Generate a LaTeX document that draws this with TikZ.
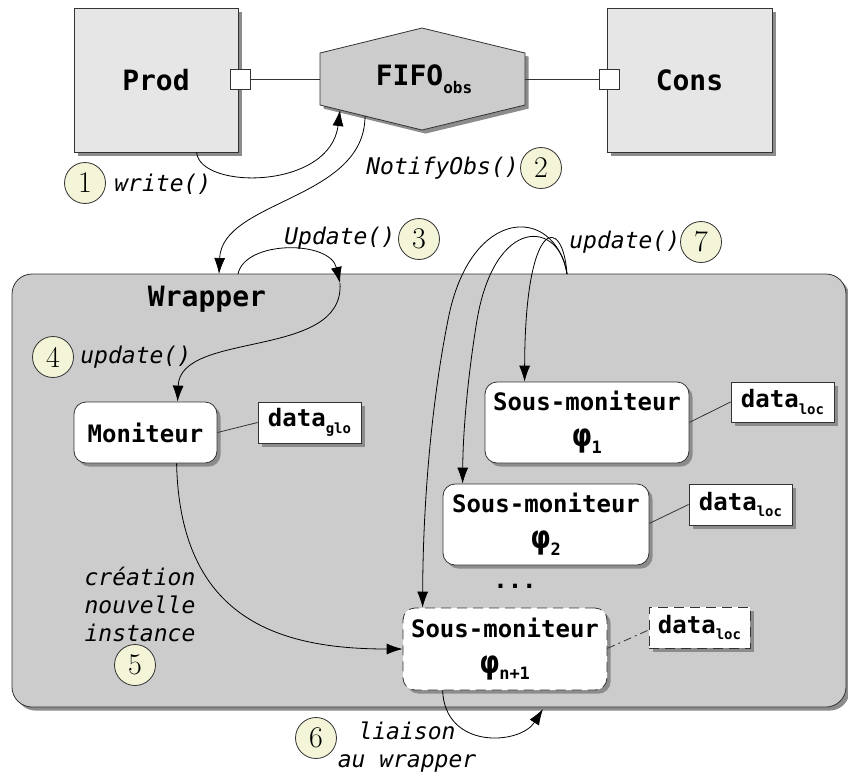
\documentclass[tikz,border=0pt]{standalone}
\usepackage{fontspec}
\newfontfamily\mono{DejaVu Sans Mono}
\usetikzlibrary{shadows,arrows.meta,calc}
\definecolor{beige}{RGB}{244,244,216}
\definecolor{lgray}{RGB}{230,230,230}
\definecolor{mgray}{RGB}{204,204,204}
\newcommand\sbs[2]{\raisebox{-0.5ex}{\fontsize{#1}{#1}\selectfont #2}}
\newcommand\bigphi{{\fontsize{16}{16}\selectfont φ}}
\begin{document}
\begin{tikzpicture}[x=0.5pt,y=-0.5pt,
  shad/.style={drop shadow={shadow xshift=1.8pt,shadow yshift=-1.8pt,fill=black!45,opacity=1}},
  bigbox/.style={draw=black!80, fill=lgray, shad, minimum width=82pt, minimum height=72pt, inner sep=0pt, font=\mono\bfseries\fontsize{14}{16}\selectfont},
  port/.style={draw=black!80, fill=white, minimum size=10pt, inner sep=0pt},
  mon/.style={draw=black!80, fill=white, rounded corners=6pt, shad, align=center, inner sep=0pt, font=\mono\bfseries\fontsize{12}{14}\selectfont},
  dbox/.style={draw=black!80, fill=white, shad, minimum width=51.5pt, minimum height=20.5pt, inner sep=0pt, font=\mono\bfseries\fontsize{12}{14}\selectfont},
  num/.style={circle, draw=black!80, fill=beige, minimum size=20.5pt, inner sep=0pt, font=\fontsize{15}{15}\selectfont},
  lab/.style={font=\mono\itshape\fontsize{11.5}{14}\selectfont, inner sep=0pt},
  arr/.style={-{Latex[length=8pt,width=5.5pt]}, black},
  ln/.style={draw=black!80}
]
\useasboundingbox (0,0) rectangle (848,773);

% top part
\node[bigbox] (prod) at (156,80) {Prod};
\node[bigbox, minimum width=82.5pt] (cons) at (689.5,80) {Cons};
\path[draw=black!80, fill=mgray, shad] (320,53) -- (422,28) -- (525,53) -- (525,105) -- (422,130) -- (320,105) -- cycle;
\node[font=\mono\bfseries\fontsize{14}{16}\selectfont, inner sep=0pt] (fifo) at (424,79) {FIFO\sbs{8}{obs}};
\coordinate (hexL) at (320,79);
\coordinate (hexR) at (525,79);
\coordinate (hW) at (340,110);
\coordinate (hN) at (365,116);
\node[port] (prodport) at (240,79) {};
\node[port] (consport) at (609,79) {};
\draw[ln] (prodport.east) -- (hexL);
\draw[ln] (hexR) -- (consport.west);

% wrapper
\node[draw=black!80, fill=mgray, rounded corners=10pt, shad, minimum width=417pt, minimum height=216.5pt, inner sep=0pt] (wrapper) at (429,490.5) {};
\node[font=\mono\bfseries\fontsize{14}{16}\selectfont, inner sep=0pt] (wlab) at (207,299) {Wrapper};

\node[mon, minimum width=71.5pt, minimum height=30.5pt] (moni) at (145.5,432.5) {Moniteur};
\node[dbox] (dglo) at (309.5,422.5) {data\sbs{7}{glo}};
\node[mon, minimum width=102pt, minimum height=40.5pt] (sm1) at (587,422.5) {Sous-moniteur\\[4pt]\bigphi\sbs{8.5}{1}};
\node[dbox, minimum height=20pt] (dl1) at (782.5,402) {data\sbs{7}{loc}};
\node[mon, minimum width=103pt, minimum height=40.5pt] (sm2) at (546,524.5) {Sous-moniteur\\[4pt]\bigphi\sbs{8.5}{2}};
\node[dbox] (dl2) at (740.5,504.5) {data\sbs{7}{loc}};
\node[font=\mono\bfseries\fontsize{12}{14}\selectfont, inner sep=0pt] (dots) at (515,586) {...};
\node[mon, dash pattern=on 5pt off 3pt, minimum width=102pt, minimum height=41pt] (smn) at (505,649) {Sous-moniteur\\[4pt]\bigphi\sbs{8.5}{n+1}};
\node[dbox, dash pattern=on 5pt off 3pt, minimum width=50.5pt] (dl3) at (699.5,627.5) {data\sbs{7}{loc}};

\draw[ln] (moni.east) -- (dglo.west);
\draw[ln] ($(sm1.south east)+(0,-41)$) -- (dl1.west);
\draw[ln] ($(sm2.south east)+(0,-42)$) -- (dl2.west);
\draw[ln, dash pattern=on 4pt off 2pt on 1pt off 2pt] ($(smn.south east)+(0,-42)$) -- (dl3.west |- 0,630);

% labels
\node[num] (n1) at (85,183) {1};
\node[lab, anchor=west] (l1) at (114,184) {write()};
\node[lab, anchor=west] (l2) at (366,168) {NotifyObs()};
\node[num] (n2) at (541,168) {2};
\node[lab, anchor=west] (l3) at (284,238) {Update()};
\node[num] (n3) at (419,239) {3};
\node[lab, anchor=west] (l7) at (569,242) {update()};
\node[num] (n7) at (701,242) {7};
\node[num] (n4) at (53,357) {4};
\node[lab, anchor=west] (l4) at (80,357) {update()};
\node[lab, align=center] (l5) at (140,604) {création\\nouvelle\\instance};
\node[num] (n5) at (135,665) {5};
\node[num] (n6) at (316,738) {6};
\node[lab, align=center] (l6) at (407,747) {liaison\\au wrapper};

% arrows
\coordinate (pw) at ($(prod.south west)+(123,0)$);
\draw[arr] (pw) .. controls (200,190) and (330,190) .. (hW);
\coordinate (wt1) at (219,274);
\draw[arr] (hN) .. controls (365,200) and (222,200) .. (wt1);
\coordinate (wt2) at (238,274);
\coordinate (w3) at (340,283);
\draw[arr] (wt2) .. controls (245,240) and (330,240) .. (w3);
\coordinate (mt) at ($(moni.north west)+(104,0)$);
\draw[arr] (w3) .. controls (345,360) and (180,330) .. (mt);
\coordinate (mb) at ($(moni.south west)+(103,0)$);
\draw[arr] (mb) .. controls (180,620) and (280,649) .. (smn.west);
\coordinate (sb) at ($(smn.south west)+(40,0)$);
\coordinate (wb) at (543,709);
\draw[arr] (sb) .. controls (445,750) and (520,745) .. (wb);
\coordinate (w7) at (567,274);
\coordinate (t1) at ($(sm1.north west)+(40,0)$);
\coordinate (t2) at ($(sm2.north west)+(20,0)$);
\coordinate (tn) at ($(smn.north west)+(20,0)$);
\draw[arr] (w7) .. controls (555,205) and (470,205) .. (448,320) .. controls (432,400) and (423,500) .. (tn);
\draw[arr] (w7) .. controls (560,220) and (495,215) .. (477,320) .. controls (468,375) and (463,430) .. (t2);
\draw[arr] (w7) .. controls (563,215) and (525,215) .. (t1);
\end{tikzpicture}
\end{document}
